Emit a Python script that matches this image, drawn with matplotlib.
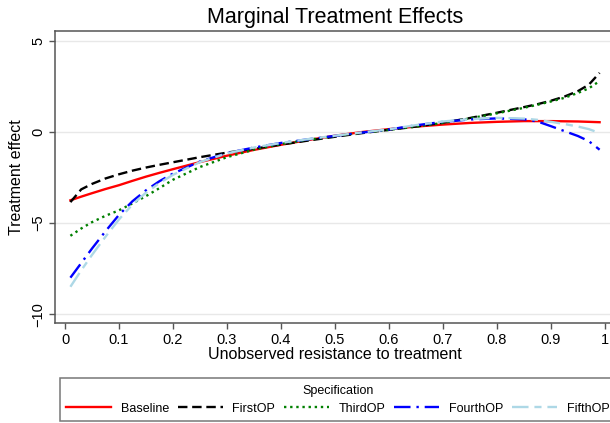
import numpy as np
import matplotlib
matplotlib.use("Agg")
import matplotlib.pyplot as plt

plt.rcParams["font.family"] = ["Liberation Sans", "DejaVu Sans"]

# data
u_grid = [0.01, 0.03, 0.05, 0.075, 0.1, 0.125, 0.15, 0.175, 0.2, 0.25, 0.3, 0.35,
          0.4, 0.45, 0.5, 0.55, 0.6, 0.65, 0.7, 0.75, 0.8, 0.85, 0.875, 0.9,
          0.925, 0.95, 0.97, 0.99]

baseline = [-3.75, -3.55, -3.36, -3.13, -2.92, -2.68, -2.45, -2.24, -2.04, -1.65,
            -1.3, -0.98, -0.7, -0.44, -0.2, 0.0, 0.16, 0.3, 0.41, 0.5, 0.56, 0.6,
            0.6, 0.6, 0.59, 0.58, 0.56, 0.54]
first_op = [-3.85, -3.15, -2.85, -2.55, -2.32, -2.12, -1.95, -1.8, -1.66, -1.38,
            -1.13, -0.92, -0.69, -0.47, -0.26, -0.06, 0.12, 0.3, 0.51, 0.77, 1.06,
            1.37, 1.53, 1.72, 1.95, 2.25, 2.6, 3.25]
third_op = [-5.7, -5.3, -4.95, -4.6, -4.3, -3.92, -3.52, -3.08, -2.62, -1.92,
            -1.38, -0.97, -0.66, -0.43, -0.22, -0.04, 0.12, 0.3, 0.5, 0.75, 1.03,
            1.33, 1.5, 1.68, 1.88, 2.15, 2.4, 2.8]
fourth_op = [-8.0, -7.2, -6.4, -5.45, -4.55, -3.8, -3.2, -2.7, -2.28, -1.62,
             -1.16, -0.85, -0.6, -0.4, -0.21, -0.03, 0.14, 0.37, 0.56, 0.69, 0.75,
             0.7, 0.58, 0.32, 0.05, -0.22, -0.5, -0.97]
fifth_op = [-8.5, -7.6, -6.75, -5.75, -4.8, -3.98, -3.33, -2.8, -2.35, -1.65,
            -1.17, -0.85, -0.6, -0.39, -0.2, -0.02, 0.15, 0.38, 0.58, 0.71, 0.78,
            0.74, 0.67, 0.56, 0.44, 0.3, 0.16, -0.05]

labels = ["Baseline", "FirstOP", "ThirdOP", "FourthOP", "FifthOP"]
x_ticks = [0, 0.1, 0.2, 0.3, 0.4, 0.5, 0.6, 0.7, 0.8, 0.9, 1]
x_ticklabels = ["0", "0.1", "0.2", "0.3", "0.4", "0.5", "0.6", "0.7", "0.8", "0.9", "1"]
y_ticks = [-10, -5, 0, 5]

W, H = 610, 423
fig = plt.figure(figsize=(W / 100, H / 100), dpi=100)
# axes box in pixels: left 55, right 615 (cut off), top 31, bottom 323
ax = fig.add_axes([55 / W, (H - 323) / H, 560 / W, 292 / H])

spine_col = "#555555"
styles = [
    dict(color="#ff0000", ls="-"),
    dict(color="black", ls=(0, (4, 2))),
    dict(color="#008000", ls=(0, (1, 1.6))),
    dict(color="#0000ff", ls=(0, (7, 2.5, 1, 2.5))),
    dict(color="#add8e6", ls=(0, (7, 2.5, 3, 2.5))),
]
series = [baseline, first_op, third_op, fourth_op, fifth_op]
for ys, lab, st in zip(series, labels, styles):
    ax.plot(u_grid, ys, lw=1.7, label=lab, **st)

ax.set_xlim(-10 / 540, 1 + 10 / 540)
ax.set_ylim(-10.49, 5.55)
ax.set_xticks(x_ticks)
ax.set_xticklabels(x_ticklabels)
ax.set_yticks(y_ticks)
ax.set_yticklabels([str(v).replace("-", "\u2212") for v in y_ticks],
                   rotation=90, va="center")
ax.tick_params(axis="both", direction="out", length=4, width=1, color=spine_col,
               labelsize=10.5, pad=3)
ax.yaxis.grid(True, color="#e8e8e8", lw=1)
ax.set_axisbelow(True)
for sp in ax.spines.values():
    sp.set_color(spine_col)
    sp.set_linewidth(1.1)

ax.set_xlabel("Unobserved resistance to treatment", fontsize=11.5, labelpad=0)
ax.set_ylabel("Treatment effect", fontsize=11.5, labelpad=5)
fig.text(335 / W, 1 - 18 / H, "Marginal Treatment Effects", fontsize=15.5,
         ha="center", va="center")

# legend kept fully inside the picture so the last label is not cut off
leg = fig.legend(loc="lower left", bbox_to_anchor=(60 / W, 2 / H), ncol=5,
                 title="Specification", title_fontsize=9, fontsize=9,
                 handlelength=3.6, handletextpad=0.75, columnspacing=0.72,
                 borderpad=0.5, borderaxespad=0, frameon=True, fancybox=False)
leg.get_frame().set_edgecolor(spine_col)
leg.get_frame().set_linewidth(1.1)

fig.savefig("out.png", dpi=100)
